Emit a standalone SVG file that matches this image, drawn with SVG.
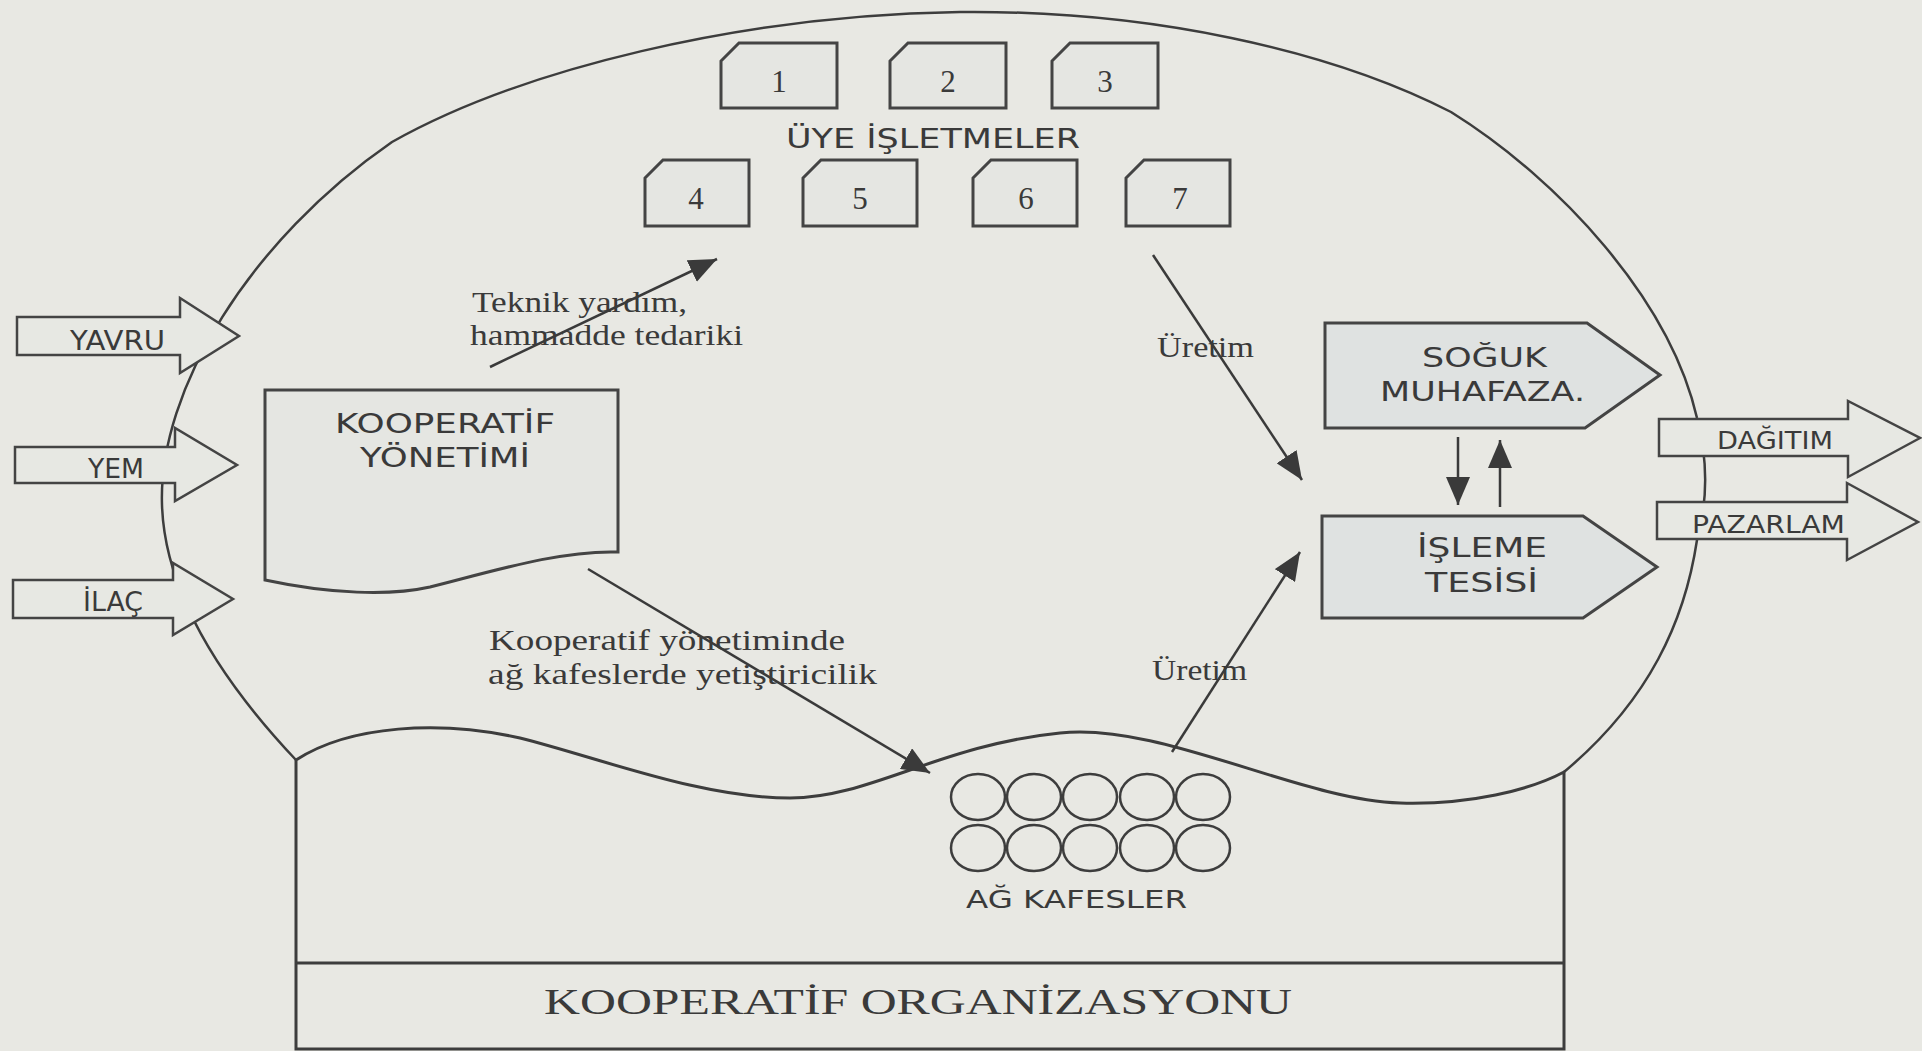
<svg xmlns="http://www.w3.org/2000/svg" width="1922" height="1051" viewBox="0 0 1922 1051">
<defs>
<style>
.ln{fill:none;stroke:#3d3d3d;stroke-width:2.5}
.bx{fill:#e5e6e2;stroke:#444;stroke-width:3}
.bb{fill:#dfe2e1;stroke:#444;stroke-width:3}
.ar{fill:#e7e8e3;stroke:#444;stroke-width:2.5}
.cn{fill:none;stroke:#3a3a3a;stroke-width:2.5}
.sn{font-family:"DejaVu Sans","Liberation Sans",sans-serif;fill:#3a3a3a}
.sf{font-family:"Liberation Serif","DejaVu Serif",serif;fill:#3a3a3a}
</style>
<marker id="ah" viewBox="0 0 28 24" refX="28" refY="12" markerWidth="28" markerHeight="24" markerUnits="userSpaceOnUse" orient="auto">
<path d="M0,0 L28,12 L0,24 z" fill="#3a3a3a"/>
</marker>
</defs>
<rect x="0" y="0" width="1922" height="1051" fill="#e8e8e3"/>

<g id="outline">
<path class="ln" d="M296,760 C230,690 165,600 162,505 C158,390 250,240 392,142 C520,70 740,15 960,12 C1150,10 1330,50 1451,112 C1560,180 1670,300 1697,418 C1708,460 1708,500 1697,540 C1685,620 1650,700 1564,772"/>
</g>

<g id="kooperatif-organizasyonu">
<path class="ln" style="fill:#e8e8e3;stroke-width:3" d="M296,760 C350,725 440,720 520,738 C600,758 700,798 790,798 C870,798 940,745 1060,733 C1160,722 1300,800 1400,803 C1470,805 1530,790 1564,772 L1564,1049 L296,1049 Z"/>
<line class="ln" style="stroke-width:3" x1="296" y1="963" x2="1564" y2="963"/>
<text class="sf" x="544" y="1014" font-size="36" textLength="748" lengthAdjust="spacingAndGlyphs">KOOPERATİF ORGANİZASYONU</text>
</g>

<g id="ag-kafesler">
<g class="ln" style="stroke-width:2.5">
<ellipse cx="978" cy="797" rx="27" ry="23"/>
<ellipse cx="1034" cy="797" rx="27" ry="23"/>
<ellipse cx="1090" cy="797" rx="27" ry="23"/>
<ellipse cx="1147" cy="797" rx="27" ry="23"/>
<ellipse cx="1203" cy="797" rx="27" ry="23"/>
<ellipse cx="978" cy="848" rx="27" ry="23"/>
<ellipse cx="1034" cy="848" rx="27" ry="23"/>
<ellipse cx="1090" cy="848" rx="27" ry="23"/>
<ellipse cx="1147" cy="848" rx="27" ry="23"/>
<ellipse cx="1203" cy="848" rx="27" ry="23"/>
</g>
<text class="sn" x="966" y="908" font-size="24" textLength="221" lengthAdjust="spacingAndGlyphs">AĞ KAFESLER</text>
</g>

<g id="uye-isletmeler">
<path class="bx" d="M721,61 L739,43 H837 V108 H721 Z"/>
<path class="bx" d="M890,61 L908,43 H1006 V108 H890 Z"/>
<path class="bx" d="M1052,61 L1070,43 H1158 V108 H1052 Z"/>
<path class="bx" d="M645,178 L663,160 H749 V226 H645 Z"/>
<path class="bx" d="M803,178 L821,160 H917 V226 H803 Z"/>
<path class="bx" d="M973,178 L991,160 H1077 V226 H973 Z"/>
<path class="bx" d="M1126,178 L1144,160 H1230 V226 H1126 Z"/>
<g class="sf" font-size="31" text-anchor="middle">
<text x="779" y="92">1</text>
<text x="948" y="92">2</text>
<text x="1105" y="92">3</text>
<text x="696" y="209">4</text>
<text x="860" y="209">5</text>
<text x="1026" y="209">6</text>
<text x="1180" y="209">7</text>
</g>
<text class="sn" x="786" y="148" font-size="27" textLength="294" lengthAdjust="spacingAndGlyphs">ÜYE İŞLETMELER</text>
</g>

<g id="kooperatif-yonetimi">
<path class="bx" d="M265,390 H618 V552 C560,550 490,572 430,587 C390,596 330,594 265,580 Z"/>
<text class="sn" x="335" y="433" font-size="27" textLength="220" lengthAdjust="spacingAndGlyphs">KOOPERATİF</text>
<text class="sn" x="360" y="467" font-size="27" textLength="170" lengthAdjust="spacingAndGlyphs">YÖNETİMİ</text>
</g>

<g id="soguk-muhafaza">
<path class="bb" d="M1325,323 H1587 L1660,375 L1585,428 H1325 Z"/>
<text class="sn" x="1422" y="367" font-size="26" textLength="125" lengthAdjust="spacingAndGlyphs">SOĞUK</text>
<text class="sn" x="1380" y="401" font-size="26" textLength="205" lengthAdjust="spacingAndGlyphs">MUHAFAZA.</text>
</g>

<g id="isleme-tesisi">
<path class="bb" d="M1322,516 H1583 L1657,567 L1583,618 H1322 Z"/>
<text class="sn" x="1417" y="557" font-size="26" textLength="130" lengthAdjust="spacingAndGlyphs">İŞLEME</text>
<text class="sn" x="1425" y="592" font-size="26" textLength="113" lengthAdjust="spacingAndGlyphs">TESİSİ</text>
</g>

<g id="yavru">
<path class="ar" d="M17,317 H180 V298 L239,336 L180,373 V355 H17 Z"/>
<text class="sn" x="70" y="350" font-size="27" textLength="95" lengthAdjust="spacingAndGlyphs">YAVRU</text>
</g>
<g id="yem">
<path class="ar" d="M15,447 H175 V428 L237,465 L175,501 V483 H15 Z"/>
<text class="sn" x="88" y="478" font-size="27" textLength="56" lengthAdjust="spacingAndGlyphs">YEM</text>
</g>
<g id="ilac">
<path class="ar" d="M13,580 H173 V563 L233,599 L173,635 V618 H13 Z"/>
<text class="sn" x="83" y="611" font-size="27" textLength="60" lengthAdjust="spacingAndGlyphs">İLAÇ</text>
</g>
<g id="dagitim">
<path class="ar" d="M1659,419 H1848 V401 L1920,438 L1848,477 V456 H1659 Z"/>
<text class="sn" x="1717" y="449" font-size="24" textLength="116" lengthAdjust="spacingAndGlyphs">DAĞITIM</text>
</g>
<g id="pazarlam">
<path class="ar" d="M1657,502 H1847 V483 L1918,522 L1847,560 V539 H1657 Z"/>
<text class="sn" x="1692" y="533" font-size="24" textLength="153" lengthAdjust="spacingAndGlyphs">PAZARLAM</text>
</g>

<g id="connectors">
<line class="cn" x1="490" y1="367" x2="717" y2="259" marker-end="url(#ah)"/>
<line class="cn" x1="588" y1="569" x2="930" y2="773" marker-end="url(#ah)"/>
<line class="cn" x1="1153" y1="255" x2="1302" y2="480" marker-end="url(#ah)"/>
<line class="cn" x1="1172" y1="752" x2="1300" y2="552" marker-end="url(#ah)"/>
<line class="cn" x1="1458" y1="437" x2="1458" y2="505" marker-end="url(#ah)"/>
<line class="cn" x1="1500" y1="507" x2="1500" y2="440" marker-end="url(#ah)"/>
</g>

<g id="labels">
<text class="sf" x="472" y="312" font-size="30" textLength="215" lengthAdjust="spacingAndGlyphs">Teknik yardım,</text>
<text class="sf" x="470" y="345" font-size="30" textLength="273" lengthAdjust="spacingAndGlyphs">hammadde tedariki</text>
<text class="sf" x="1157" y="357" font-size="30" textLength="97" lengthAdjust="spacingAndGlyphs">Üretim</text>
<text class="sf" x="1152" y="680" font-size="30" textLength="95" lengthAdjust="spacingAndGlyphs">Üretim</text>
<text class="sf" x="489" y="650" font-size="30" textLength="356" lengthAdjust="spacingAndGlyphs">Kooperatif yönetiminde</text>
<text class="sf" x="488" y="684" font-size="30" textLength="389" lengthAdjust="spacingAndGlyphs">ağ kafeslerde yetiştiricilik</text>
</g>
</svg>
